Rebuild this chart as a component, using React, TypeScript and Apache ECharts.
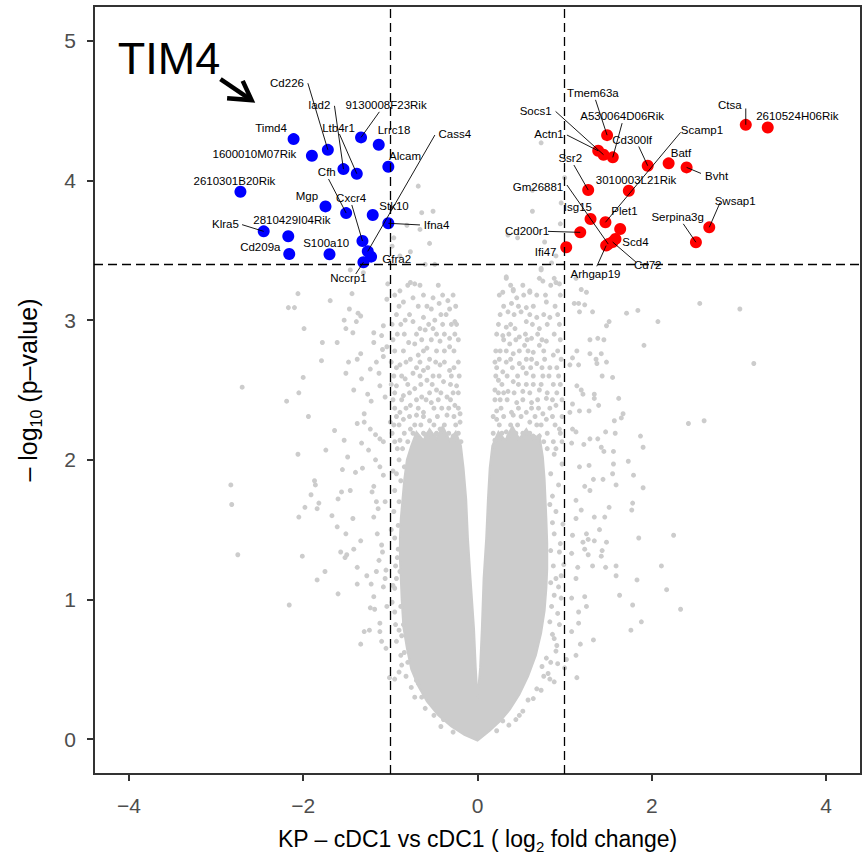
import React, { useEffect, useRef } from "react";
import * as echarts from "echarts";

const FONT = '"Liberation Sans", Arial, Helvetica, sans-serif';

// axis ticks and thresholds
const xTicks = [-4, -2, 0, 2, 4];
const yTicks = [0, 1, 2, 3, 4, 5];
const xRange = [-4.4, 4.4];
const yRange = [-0.25, 5.25];
const fcCuts = [-1, 1];
const pCuts = [3.4];

// significant genes (log2 FC, -log10 p)
const blueNames = ["Timd4", "Cd226", "1600010M07Rik", "9130008F23Rik", "Lrrc18", "lad2", "Ltb4r1", "Alcam", "2610301B20Rik", "Mgp", "Cfh", "Stk10", "Ifna4", "Klra5", "2810429I04Rik", "Cd209a", "S100a10", "Cxcr4", "Cass4", "Gfra2", "Nccrp1"];
const blueX = [-2.11, -1.717, -1.9, -1.336, -1.133, -1.538, -1.385, -1.023, -2.72, -1.744, -1.507, -1.202, -1.023, -2.453, -2.171, -2.16, -1.698, -1.32, -1.259, -1.221, -1.309];
const blueY = [4.297, 4.22, 4.178, 4.309, 4.256, 4.082, 4.049, 4.099, 3.92, 3.815, 3.767, 3.753, 3.694, 3.636, 3.601, 3.474, 3.472, 3.567, 3.493, 3.455, 3.415];

const redNames = ["Tmem63a", "Actn1", "Socs1", "A530064D06Rik", "Cd300lf", "Batf", "Bvht", "Ctsa", "2610524H06Rik", "Ssr2", "3010003L21Rik", "Scamp1", "Isg15", "Plet1", "Cd200r1", "Scd4", "Cd72", "Gm26881", "Arhgap19", "Ifi47", "Serpina3g", "Swsap1"];
const redX = [1.487, 1.385, 1.446, 1.552, 1.953, 2.193, 2.399, 3.078, 3.33, 1.27, 1.736, 1.468, 1.297, 1.637, 1.179, 1.583, 1.55, 1.5, 1.476, 1.018, 2.506, 2.659];
const redY = [4.325, 4.213, 4.185, 4.166, 4.106, 4.123, 4.094, 4.399, 4.38, 3.932, 3.927, 3.701, 3.725, 3.653, 3.629, 3.582, 3.56, 3.545, 3.534, 3.522, 3.558, 3.665];

// label placement: [labelX, labelY, segmentStartX, segmentStartY] (segment optional)
const labelPlace: Record<string, number[]> = {
  Timd4: [-2.369, 4.373],
  Cd226: [-2.186, 4.702, -1.946, 4.697],
  "1600010M07Rik": [-2.56, 4.187],
  "9130008F23Rik": [-1.049, 4.54, -1.126, 4.492],
  Lrrc18: [-0.958, 4.364],
  lad2: [-1.813, 4.54, -1.641, 4.535],
  Ltb4r1: [-1.595, 4.373, -1.584, 4.333],
  Alcam: [-0.832, 4.178],
  "2610301B20Rik": [-2.789, 3.999],
  Mgp: [-1.957, 3.892],
  Cfh: [-1.729, 4.061, -1.709, 4.011],
  Stk10: [-0.958, 3.82],
  Ifna4: [-0.47, 3.682, -0.66, 3.682],
  Klra5: [-2.892, 3.689, -2.701, 3.684],
  "2810429I04Rik": [-2.129, 3.717],
  Cd209a: [-2.492, 3.522],
  S100a10: [-1.736, 3.551],
  Cxcr4: [-1.45, 3.872, -1.442, 3.825],
  Cass4: [-0.26, 4.333, -0.489, 4.326],
  Gfra2: [-0.927, 3.438],
  Nccrp1: [-1.481, 3.3, -1.397, 3.331],
  Tmem63a: [1.323, 4.626, 1.354, 4.578],
  Socs1: [0.667, 4.495, 0.896, 4.495],
  Actn1: [0.82, 4.33, 1.026, 4.326],
  A530064D06Rik: [1.659, 4.464, 1.659, 4.411],
  Cd300lf: [1.774, 4.292, 1.85, 4.244],
  Scamp1: [2.575, 4.364, 2.33, 4.345],
  Batf: [2.335, 4.194],
  Bvht: [2.743, 4.03, 2.564, 4.051],
  Ctsa: [2.895, 4.54, 3.078, 4.516],
  "2610524H06Rik": [3.67, 4.459],
  Ssr2: [1.064, 4.161, 1.106, 4.111],
  "3010003L21Rik": [1.819, 4.006],
  Gm26881: [0.694, 3.956, 1.026, 3.968],
  Isg15: [1.152, 3.808],
  Plet1: [1.686, 3.784],
  Cd200r1: [0.568, 3.636, 0.809, 3.636],
  Scd4: [1.812, 3.562],
  Ifi47: [0.782, 3.486],
  Arhgap19: [1.354, 3.331, 1.369, 3.386],
  Cd72: [1.953, 3.396, 1.82, 3.415],
  Serpina3g: [2.296, 3.737, 2.361, 3.69],
  Swsap1: [2.956, 3.856, 2.781, 3.839],
};

// dense core of non-significant genes (outline of the solid cloud)
const coreOutline = [
  [0.0, -0.01], [-0.15, 0.03], [-0.3, 0.09], [-0.45, 0.17], [-0.58, 0.27], [-0.68, 0.38], [-0.76, 0.5], [-0.81, 0.65], [-0.85, 0.8], [-0.87, 1.0], [-0.88, 1.15], [-0.89, 1.29], [-0.89, 1.44], [-0.88, 1.58], [-0.86, 1.72], [-0.84, 1.86], [-0.81, 2.0], [-0.76, 2.1],
  [-0.7, 2.2], [-0.62, 2.14], [-0.55, 2.22], [-0.47, 2.15], [-0.4, 2.24], [-0.32, 2.14], [-0.25, 2.2], [-0.19, 2.1],
  [-0.16, 1.94], [-0.13, 1.72], [-0.11, 1.44], [-0.08, 1.15], [-0.04, 0.79], [-0.02, 0.51], [0.0, 0.29],
  [0.03, 0.51], [0.05, 0.79], [0.07, 1.15], [0.1, 1.44], [0.12, 1.72], [0.14, 1.94], [0.17, 2.1],
  [0.24, 2.2], [0.32, 2.14], [0.4, 2.24], [0.48, 2.15], [0.56, 2.22], [0.64, 2.14], [0.71, 2.18],
  [0.75, 2.02], [0.77, 1.86], [0.78, 1.72], [0.79, 1.58], [0.8, 1.4], [0.8, 1.22], [0.79, 1.08], [0.77, 0.92], [0.73, 0.76], [0.67, 0.6], [0.58, 0.45], [0.48, 0.32], [0.37, 0.21], [0.26, 0.13], [0.14, 0.06],
];

// scattered non-significant genes
const grayLeftOuter = [
  [-2.06, 3.19], [-2.17, 3.09], [-2.1, 3.09], [-1.69, 3.14], [-1.44, 3.19], [-1.47, 3.08], [-1.37, 3.05], [-1.34, 3.03], [-1.53, 3.0], [-1.39, 2.99], [-1.99, 2.94], [-1.51, 2.94], [-1.43, 2.91], [-1.19, 2.91], [-1.1, 2.89], [-1.78, 2.84], [-1.61, 2.84], [-1.19, 2.84], [-1.09, 2.79], [-1.34, 2.76], [-1.08, 2.74], [-1.79, 2.71], [-1.48, 2.7], [-1.38, 2.72], [-1.16, 2.7], [-1.23, 2.65], [-1.13, 2.62], [-1.51, 2.62], [-1.33, 2.58], [-2.0, 2.59], [-2.7, 2.52], [-2.05, 2.48], [-2.19, 2.42], [-1.42, 2.5], [-1.12, 2.53], [-1.26, 2.47], [-1.22, 2.42], [-1.06, 2.45], [-1.94, 2.31], [-1.3, 2.33], [-1.38, 2.26], [-1.3, 2.27], [-1.64, 2.21], [-1.23, 2.22], [-1.53, 2.14], [-1.33, 2.12], [-1.17, 2.18], [-1.12, 2.15], [-1.74, 2.07], [-2.06, 2.04], [-1.49, 2.02], [-1.25, 2.07], [-1.17, 2.0], [-1.55, 1.93], [-1.4, 1.91], [-1.32, 1.94], [-1.12, 1.95], [-1.08, 1.89], [-1.87, 1.85], [-1.86, 1.82], [-2.83, 1.82], [-1.46, 1.78], [-1.91, 1.75], [-1.56, 1.77], [-1.19, 1.81], [-1.21, 1.77], [-1.82, 1.69], [-1.6, 1.72], [-1.16, 1.7], [-1.84, 1.65], [-1.98, 1.66], [-2.82, 1.68], [-2.05, 1.59], [-1.67, 1.6], [-1.43, 1.58], [-1.14, 1.65], [-1.61, 1.52], [-1.51, 1.47], [-1.34, 1.42], [-1.15, 1.47], [-1.57, 1.34], [-1.42, 1.36], [-1.1, 1.39], [-2.75, 1.32], [-2.01, 1.31], [-1.5, 1.32], [-1.38, 1.23], [-1.75, 1.2], [-1.16, 1.2], [-1.09, 1.34],
  [-2.16, 0.96], [-1.84, 1.14], [-1.6, 1.04], [-1.52, 1.3], [-1.38, 1.11], [-1.27, 1.17], [-1.22, 1.11], [-1.19, 1.02], [-1.23, 0.94], [-1.18, 0.93], [-1.3, 0.77], [-1.24, 0.78], [-1.34, 0.68], [-1.12, 0.83], [-1.12, 0.77], [-1.1, 0.7], [-1.05, 0.65], [-1.01, 0.44], [-1.05, 1.21], [-1.06, 1.15], [-1.08, 1.09], [-1.04, 0.95], [-1.13, 1.28], [-1.06, 1.7], [-1.19, 1.59],
  [-1.46, 3.36], [-1.31, 3.34], [-1.04, 3.15], [-1.08, 2.96], [-1.03, 3.26],
];
const grayLeftInner = [
  [-0.95, 0.43], [-0.87, 0.53], [-0.88, 0.6], [-0.93, 0.7], [-0.87, 0.74], [-0.94, 0.82], [-0.85, 0.82], [-0.95, 0.91], [-0.85, 1.01], [-0.95, 1.08], [-0.93, 1.15], [-0.94, 1.24], [-0.91, 1.36], [-0.95, 1.44], [-0.91, 1.53], [-0.96, 1.63], [-0.85, 1.65], [-0.76, 0.37], [-0.64, 0.3], [-0.55, 0.27], [-0.47, 0.22], [-0.39, 0.14], [-0.32, 0.12], [-0.68, 0.4], [-0.77, 0.64],
  [-0.95, 1.78], [-0.88, 1.85], [-0.97, 1.92], [-0.9, 2.0], [-0.84, 1.95],
  [-0.9, 0.48], [-0.82, 0.45], [-0.72, 0.3], [-0.6, 0.22], [-0.5, 0.17], [-0.42, 0.09], [-0.28, 0.05], [-0.88, 0.95], [-0.92, 1.3], [-0.97, 1.1], [-0.9, 1.7], [-0.93, 1.9], [-0.99, 1.5], [-0.89, 1.2], [-0.98, 0.98], [-0.9, 0.78], [-0.84, 0.62], [-0.8, 0.55], [-0.7, 0.42],
  [-0.77, 3.27], [-0.72, 3.26], [-0.89, 3.21], [-0.85, 3.13], [-0.74, 3.16], [-0.51, 3.16], [-0.44, 3.12], [-0.34, 3.14], [-0.32, 3.08], [-0.53, 3.08], [-0.62, 3.02], [-0.74, 2.99], [-0.83, 3.0], [-0.66, 2.94], [-0.49, 3.0], [-0.26, 2.99], [-0.24, 2.97], [-0.6, 2.93], [-0.51, 2.94], [-0.32, 2.87], [-0.43, 2.85], [-0.79, 2.84], [-0.72, 2.83], [-1.04, 2.81], [-0.58, 2.8], [-0.32, 2.81], [-0.68, 2.75], [-0.55, 2.72], [-0.77, 2.72], [-0.89, 2.68], [-0.43, 2.68], [-0.32, 2.64], [-0.62, 2.64], [-0.74, 2.62], [-0.51, 2.6], [-0.83, 2.58], [-0.58, 2.57], [-0.39, 2.56], [-0.24, 2.53], [-0.93, 2.53], [-0.72, 2.51], [-0.47, 2.5], [-0.85, 2.46], [-0.64, 2.45], [-0.35, 2.45], [-0.53, 2.41], [-0.77, 2.39], [-0.26, 2.39], [-0.41, 2.37], [-0.62, 2.34], [-0.89, 2.34], [-0.2, 2.33],
  [-1.0, 2.27], [-0.85, 2.29], [-0.7, 2.32], [-0.55, 2.28], [-0.35, 2.32], [-0.2, 2.27], [-0.77, 2.22], [-0.43, 2.22], [-0.62, 2.19], [-0.28, 2.17], [-0.89, 2.14], [-1.08, 2.13],
  [-0.68, 3.96], [-0.64, 3.77], [-0.51, 3.78], [-0.66, 3.65], [-0.81, 3.68], [-0.96, 3.59], [-0.55, 3.55], [-0.77, 3.49], [-0.89, 3.46], [-0.98, 3.53], [-0.6, 3.4], [-0.49, 3.4],
];
const grayLeftLobe = [
  [-0.8, 3.25], [-0.66, 3.25], [-0.45, 3.25],
  [-0.95, 3.18], [-0.62, 3.18], [-0.4, 3.18], [-0.28, 3.18],
  [-0.9, 3.1], [-0.68, 3.1], [-0.58, 3.1], [-0.25, 3.1],
  [-0.93, 3.04], [-0.78, 3.04], [-0.42, 3.04], [-0.36, 3.04],
  [-0.98, 2.97], [-0.88, 2.97], [-0.56, 2.97], [-0.4, 2.97], [-0.3, 2.97],
  [-0.92, 2.9], [-0.84, 2.9], [-0.7, 2.9], [-0.47, 2.9], [-0.38, 2.9], [-0.26, 2.9],
  [-0.97, 2.86], [-0.64, 2.86], [-0.53, 2.86], [-0.22, 2.86],
  [-0.95, 2.78], [-0.85, 2.78], [-0.62, 2.78], [-0.47, 2.78], [-0.38, 2.78], [-0.27, 2.78],
  [-0.99, 2.7], [-0.82, 2.7], [-0.66, 2.7], [-0.48, 2.7], [-0.38, 2.7], [-0.22, 2.7],
  [-0.93, 2.66], [-0.7, 2.66], [-0.57, 2.66], [-0.27, 2.66],
  [-0.96, 2.6], [-0.87, 2.6], [-0.66, 2.6], [-0.44, 2.6], [-0.3, 2.6], [-0.21, 2.6],
  [-0.99, 2.54], [-0.8, 2.54], [-0.65, 2.54], [-0.52, 2.54], [-0.31, 2.54],
  [-0.95, 2.48], [-0.78, 2.48], [-0.55, 2.48], [-0.42, 2.48], [-0.28, 2.48], [-0.22, 2.48],
  [-0.97, 2.43], [-0.87, 2.43], [-0.7, 2.43], [-0.59, 2.43], [-0.45, 2.43], [-0.31, 2.43],
  [-0.95, 2.37], [-0.82, 2.37], [-0.68, 2.37], [-0.5, 2.37], [-0.33, 2.37], [-0.22, 2.37],
  [-0.93, 2.31], [-0.78, 2.31], [-0.62, 2.31], [-0.46, 2.31], [-0.27, 2.31],
  [-0.96, 2.25], [-0.9, 2.25], [-0.72, 2.25], [-0.65, 2.25], [-0.5, 2.25], [-0.38, 2.25], [-0.25, 2.25],
  [-0.98, 2.19], [-0.84, 2.19], [-0.74, 2.19], [-0.56, 2.19], [-0.47, 2.19], [-0.33, 2.19], [-0.22, 2.19],
  [-0.95, 2.13], [-0.8, 2.13], [-0.7, 2.17], [-0.52, 2.16], [-0.39, 2.17], [-0.25, 2.14], [-0.19, 2.13],
  [-0.92, 2.08], [-0.86, 2.08], [-0.6, 2.18], [-0.48, 2.18], [-0.27, 2.12],
];
const grayRightInner = [
  [0.33, 3.3], [0.73, 3.36], [0.75, 3.28], [0.9, 3.27], [0.29, 3.2], [0.41, 3.21], [0.45, 3.16], [0.6, 3.21], [0.68, 3.18], [0.39, 3.12], [0.56, 3.09], [0.79, 3.13], [0.35, 3.06], [0.5, 3.06], [0.68, 3.02], [0.83, 3.02], [0.56, 2.99], [0.33, 2.95], [0.43, 2.94], [0.71, 2.94], [0.29, 2.89], [0.48, 2.88], [0.62, 2.87], [0.79, 2.85], [0.37, 2.83], [0.54, 2.82], [0.71, 2.82], [0.26, 2.78], [0.41, 2.76], [0.64, 2.77], [0.87, 2.75], [0.2, 2.7], [0.33, 2.7], [0.48, 2.69], [0.68, 2.69], [0.83, 2.66], [0.29, 2.63], [0.56, 2.62], [0.75, 2.6], [0.24, 2.57], [0.41, 2.56], [0.64, 2.54], [0.87, 2.54], [0.2, 2.5], [0.35, 2.49], [0.52, 2.49], [0.71, 2.5], [0.26, 2.43], [0.45, 2.41], [0.62, 2.41], [0.79, 2.44], [0.22, 2.35], [0.39, 2.34], [0.56, 2.34], [0.75, 2.33], [0.9, 2.39],
  [0.22, 2.29], [0.41, 2.32], [0.6, 2.27], [0.79, 2.29], [0.94, 2.22], [0.33, 2.2], [0.52, 2.19], [0.71, 2.17], [0.87, 2.13], [0.2, 2.14],
  [0.73, 4.27], [0.63, 3.93], [0.63, 3.78], [0.96, 3.84], [0.95, 3.69], [0.77, 3.56], [0.46, 3.59], [0.35, 3.61], [0.9, 3.46], [0.85, 3.41], [0.73, 3.37], [0.88, 3.3], [0.33, 3.31], [0.41, 3.22], [0.6, 3.2], [0.71, 3.3], [0.94, 3.26],
  [0.88, 0.41], [0.83, 0.43], [0.81, 0.47], [0.73, 0.35], [0.64, 0.29], [0.52, 0.2], [0.48, 0.17], [0.29, 0.13], [0.9, 0.63], [0.91, 0.67], [0.88, 0.72], [0.94, 0.82], [0.83, 0.84], [0.92, 0.9], [0.96, 1.01], [0.88, 1.03], [0.93, 1.09], [0.96, 1.17], [0.87, 1.24], [0.94, 1.34], [0.88, 1.47], [0.98, 1.54], [0.9, 1.63], [0.79, 0.58], [0.74, 0.52],
  [0.86, 1.74], [0.93, 1.82], [0.84, 1.9], [0.97, 1.97], [0.88, 2.04],
  [0.84, 0.55], [0.76, 0.45], [0.68, 0.36], [0.58, 0.28], [0.44, 0.14], [0.36, 0.1], [0.22, 0.06], [0.86, 0.75], [0.85, 0.95], [0.9, 1.15], [0.84, 1.35], [0.86, 1.55], [0.83, 1.68], [0.95, 1.4], [0.99, 1.25], [0.84, 1.12], [0.92, 0.54],
];
const grayRightLobe = [
  [0.38, 3.25], [0.52, 3.25], [0.84, 3.25],
  [0.25, 3.18], [0.53, 3.18], [0.78, 3.18], [0.95, 3.18],
  [0.3, 3.1], [0.47, 3.1], [0.64, 3.1], [0.89, 3.1],
  [0.26, 3.04], [0.42, 3.04], [0.6, 3.04], [0.76, 3.04], [0.92, 3.04],
  [0.24, 2.97], [0.38, 2.97], [0.63, 2.97], [0.8, 2.97], [0.94, 2.97],
  [0.22, 2.9], [0.36, 2.9], [0.55, 2.9], [0.69, 2.9], [0.88, 2.9],
  [0.3, 2.86], [0.44, 2.86], [0.57, 2.86], [0.74, 2.86], [0.95, 2.86],
  [0.21, 2.78], [0.33, 2.78], [0.48, 2.78], [0.58, 2.78], [0.76, 2.78], [0.92, 2.78],
  [0.25, 2.72], [0.38, 2.72], [0.56, 2.72], [0.62, 2.72], [0.77, 2.72], [0.96, 2.72],
  [0.22, 2.66], [0.4, 2.66], [0.52, 2.66], [0.61, 2.66], [0.74, 2.66], [0.91, 2.66],
  [0.21, 2.6], [0.34, 2.6], [0.46, 2.6], [0.64, 2.6], [0.82, 2.6], [0.93, 2.6],
  [0.28, 2.54], [0.47, 2.54], [0.56, 2.54], [0.73, 2.54], [0.95, 2.54],
  [0.24, 2.48], [0.3, 2.48], [0.42, 2.48], [0.6, 2.48], [0.8, 2.48], [0.91, 2.48],
  [0.2, 2.43], [0.34, 2.43], [0.52, 2.43], [0.69, 2.43], [0.86, 2.43], [0.97, 2.43],
  [0.27, 2.37], [0.47, 2.37], [0.62, 2.37], [0.7, 2.37], [0.83, 2.37],
  [0.18, 2.31], [0.3, 2.31], [0.5, 2.31], [0.66, 2.31], [0.86, 2.31], [0.97, 2.31],
  [0.25, 2.25], [0.38, 2.25], [0.46, 2.25], [0.68, 2.25], [0.73, 2.25], [0.89, 2.25],
  [0.18, 2.19], [0.28, 2.19], [0.44, 2.19], [0.6, 2.19], [0.8, 2.19], [0.95, 2.19],
  [0.25, 2.15], [0.36, 2.17], [0.47, 2.15], [0.64, 2.17], [0.76, 2.13], [0.97, 2.13],
  [0.2, 2.1], [0.3, 2.14], [0.55, 2.16], [0.66, 2.16], [0.8, 2.08], [0.9, 2.08],
];
const grayRightOuter = [
  [1.0, 4.02], [2.55, 3.12], [3.01, 3.08], [2.07, 2.99], [1.84, 3.07], [1.71, 3.05], [1.51, 2.99], [1.48, 2.96], [1.32, 3.06], [1.23, 3.11], [1.16, 3.12], [1.17, 3.06], [1.11, 3.12], [1.19, 3.22], [1.25, 3.2], [1.13, 3.3], [1.91, 2.82], [3.17, 2.69], [1.29, 2.86], [1.38, 2.87], [1.45, 2.86], [1.29, 2.76], [1.42, 2.76], [1.36, 2.72], [1.37, 2.69], [1.48, 2.7], [1.14, 2.78], [1.09, 2.73], [1.06, 2.68], [1.16, 2.68], [1.43, 2.6], [1.55, 2.59], [1.14, 2.53], [1.19, 2.5], [1.21, 2.47], [1.34, 2.47], [1.34, 2.44], [1.62, 2.44], [1.39, 2.39], [1.09, 2.4], [1.06, 2.34], [1.17, 2.35], [1.28, 2.35], [1.67, 2.33], [1.65, 2.3], [1.57, 2.28], [2.42, 2.26], [2.6, 2.28], [1.09, 2.22], [1.13, 2.2], [1.29, 2.15], [1.38, 2.15], [1.47, 2.2], [1.58, 2.19], [1.87, 2.17], [1.9, 2.09], [1.42, 2.09], [1.45, 2.06], [1.22, 2.11], [1.08, 2.12], [1.56, 2.06], [1.73, 1.99], [1.56, 1.97], [1.17, 1.95], [1.28, 1.96], [1.33, 1.86], [1.44, 1.86], [1.55, 1.9], [1.79, 1.89], [1.59, 1.82], [1.9, 1.8], [1.23, 1.81], [1.29, 1.78], [1.13, 1.71], [1.51, 1.66], [1.78, 1.69], [1.77, 1.64], [1.34, 1.59], [1.46, 1.59],
  [1.19, 1.64], [1.13, 1.58], [2.25, 1.46], [1.85, 1.44], [1.25, 1.47], [1.4, 1.5], [1.48, 1.41], [1.34, 1.42], [1.21, 1.41], [1.27, 1.43], [1.09, 1.46], [1.23, 1.36], [1.27, 1.32], [1.43, 1.35], [1.42, 1.31], [1.08, 1.33], [2.11, 1.24], [1.59, 1.24], [1.59, 1.17], [1.47, 1.23], [1.32, 1.24], [1.15, 1.23], [1.13, 1.15], [1.83, 1.14], [2.17, 1.07], [1.63, 1.03], [1.23, 1.02], [1.08, 1.01], [2.33, 0.93], [1.78, 0.96], [1.88, 0.84], [1.76, 0.78], [1.25, 0.95], [1.16, 0.91], [1.16, 0.83], [1.33, 0.71], [1.18, 0.68], [1.13, 0.6], [1.14, 0.44], [1.08, 0.77], [1.02, 0.57], [1.0, 0.51],
];

// annotation "TIM4" with arrow
const annotText = "TIM4";
const annotTextAt = [-4.127, 4.876];
const arrowTail = [-2.949, 4.726];
const arrowTip = [-2.592, 4.576];
const arrowWings = [[-2.873, 4.59], [-2.694, 4.714]];

export default function App() {
  const ref = useRef<HTMLDivElement>(null);
  useEffect(() => {
    const chart = echarts.init(ref.current as HTMLDivElement, null, { renderer: "svg" });

    const labels: { name: string; pt: number[]; pos: number[]; seg: number[] | null }[] = [];
    blueNames.forEach((n, i) => {
      const p = labelPlace[n];
      labels.push({ name: n, pt: [blueX[i], blueY[i]], pos: [p[0], p[1]], seg: p.length > 2 ? [p[2], p[3]] : null });
    });
    redNames.forEach((n, i) => {
      const p = labelPlace[n];
      labels.push({ name: n, pt: [redX[i], redY[i]], pos: [p[0], p[1]], seg: p.length > 2 ? [p[2], p[3]] : null });
    });

    const gray = [...grayLeftOuter, ...grayLeftInner, ...grayLeftLobe, ...grayRightInner, ...grayRightLobe, ...grayRightOuter];

    const richTitle = (size: number) => ({
      a: { fontSize: size, fontFamily: FONT, color: "#000", lineHeight: size + 8, verticalAlign: "middle" },
      s: { fontSize: Math.round(size * 0.65), fontFamily: FONT, color: "#000", lineHeight: Math.round(size * 0.7), verticalAlign: "bottom" },
    });

    const option: any = {
      animation: false,
      backgroundColor: "#ffffff",
      textStyle: { fontFamily: FONT },
      grid: { left: 94, right: 2, top: 6, bottom: 81, show: true, borderColor: "#333333", borderWidth: 2, backgroundColor: "transparent", containLabel: false, outerBoundsMode: "none" },
      xAxis: {
        type: "value",
        min: xRange[0],
        max: xRange[1],
        splitLine: { show: false },
        axisLine: { show: false, onZero: false },
        axisTick: { show: true, length: 7, lineStyle: { color: "#333333", width: 2 }, customValues: xTicks },
        axisLabel: {
          customValues: xTicks,
          color: "#4d4d4d",
          fontSize: 21,
          fontFamily: FONT,
          margin: 21,
          formatter: (v: number) => (v < 0 ? "\u2212" + Math.abs(v) : String(v)),
        },
        name: "{a|KP \u2013 cDC1 vs cDC1 ( log}{s|2}{a| fold change)}",
        nameLocation: "middle",
        nameGap: 49,
        nameTextStyle: { rich: richTitle(23) },
      },
      yAxis: {
        type: "value",
        min: yRange[0],
        max: yRange[1],
        splitLine: { show: false },
        axisLine: { show: false, onZero: false },
        axisTick: { show: true, length: 7, lineStyle: { color: "#333333", width: 2 }, customValues: yTicks },
        axisLabel: { customValues: yTicks, color: "#4d4d4d", fontSize: 21, fontFamily: FONT, margin: 18 },
        name: "{a|\u2013 log}{s|10}{a| (p\u2013value)}",
        nameLocation: "middle",
        nameGap: 50,
        nameRotate: 90,
        nameTextStyle: { rich: richTitle(25) },
      },
      series: [
        {
          type: "custom",
          name: "core",
          coordinateSystem: "cartesian2d",
          silent: true,
          z: 1,
          data: [[0, 1]],
          renderItem: (_p: any, api: any) => ({
            type: "polygon",
            shape: { points: coreOutline.map((c) => api.coord(c)) },
            style: { fill: "#cccccc", stroke: "#cccccc", lineWidth: 2 },
          }),
        },
        {
          type: "scatter",
          name: "ns",
          z: 2,
          silent: true,
          symbolSize: 5,
          itemStyle: { color: "#cccccc", opacity: 1 },
          data: gray,
        },
        {
          type: "scatter",
          name: "cuts",
          z: 3,
          silent: true,
          data: [],
          markLine: {
            silent: true,
            symbol: "none",
            label: { show: false },
            lineStyle: { color: "#000", width: 1.3, type: [9, 5] },
            data: [...fcCuts.map((v) => ({ xAxis: v })), ...pCuts.map((v) => ({ yAxis: v }))],
          },
        },
        {
          type: "scatter",
          name: "down",
          z: 4,
          silent: true,
          symbolSize: 12,
          itemStyle: { color: "#0000ff", opacity: 1 },
          data: blueX.map((x, i) => [x, blueY[i]]),
        },
        {
          type: "scatter",
          name: "up",
          z: 4,
          silent: true,
          symbolSize: 12,
          itemStyle: { color: "#ff0000", opacity: 1 },
          data: redX.map((x, i) => [x, redY[i]]),
        },
        {
          type: "custom",
          name: "labels",
          coordinateSystem: "cartesian2d",
          silent: true,
          z: 5,
          data: labels.map((l) => l.pos),
          renderItem: (params: any, api: any) => {
            const l = labels[params.dataIndex];
            const children: any[] = [];
            if (l.seg) {
              const a = api.coord(l.seg);
              const b = api.coord(l.pt);
              children.push({ type: "line", shape: { x1: a[0], y1: a[1], x2: b[0], y2: b[1] }, style: { stroke: "#000", lineWidth: 0.9 } });
            }
            const c = api.coord(l.pos);
            children.push({
              type: "text",
              x: c[0],
              y: c[1],
              style: { text: l.name, fill: "#000", font: `11.5px ${FONT}`, align: "center", verticalAlign: "middle" },
            });
            return { type: "group", children };
          },
        },
        {
          type: "custom",
          name: "annotation",
          coordinateSystem: "cartesian2d",
          silent: true,
          z: 6,
          data: [annotTextAt],
          renderItem: (_p: any, api: any) => {
            const t = api.coord(annotTextAt);
            const tail = api.coord(arrowTail);
            const tip = api.coord(arrowTip);
            const w1 = api.coord(arrowWings[0]);
            const w2 = api.coord(arrowWings[1]);
            return {
              type: "group",
              children: [
                { type: "text", x: t[0], y: t[1], style: { text: annotText, fill: "#000", font: `45px ${FONT}`, align: "left", verticalAlign: "middle" } },
                { type: "line", shape: { x1: tail[0], y1: tail[1], x2: tip[0] - 2, y2: tip[1] - 1.3 }, style: { stroke: "#000", lineWidth: 4.5 } },
                { type: "polyline", shape: { points: [w1, tip, w2] }, style: { stroke: "#000", lineWidth: 4.5, fill: "none", lineJoin: "miter" } },
              ],
            };
          },
        },
      ],
    };
    chart.setOption(option);
    return () => chart.dispose();
  }, []);
  return <div ref={ref} style={{ position: "absolute", left: 0, top: 0, width: 863, height: 855, background: "#fff" }} />;
}
